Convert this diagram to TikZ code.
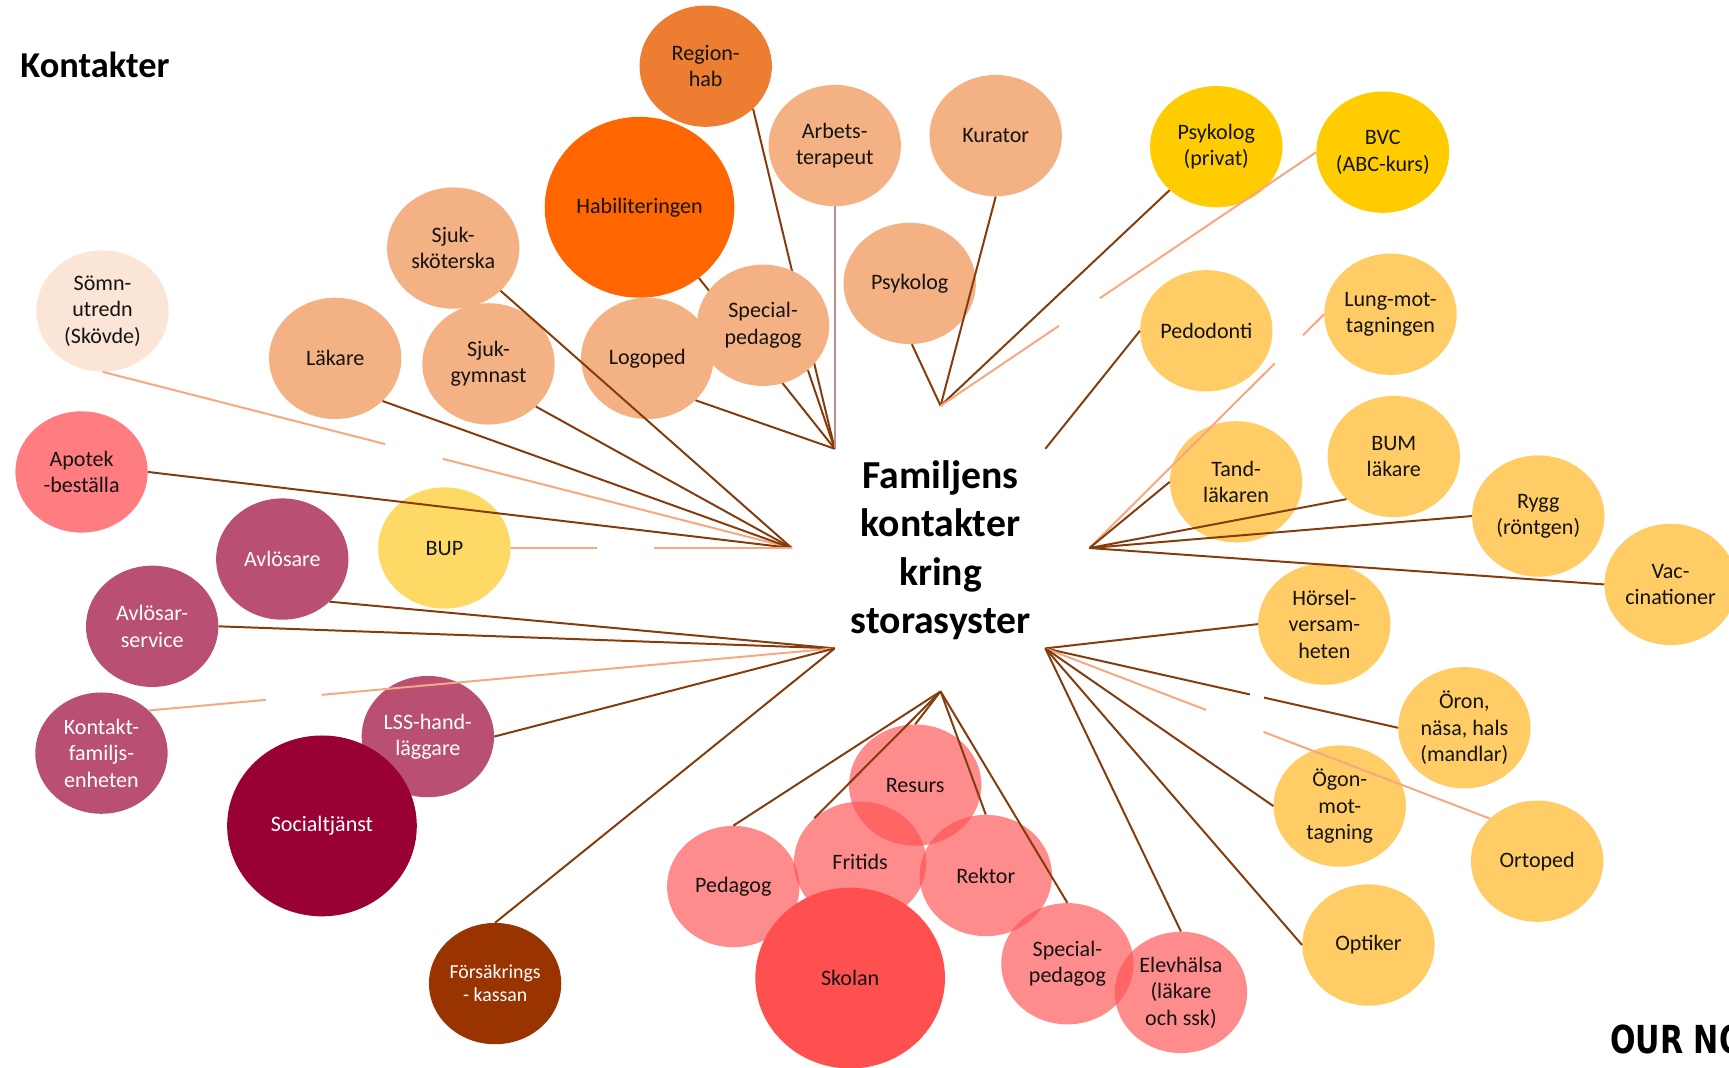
\documentclass[tikz,border=0pt]{standalone}
\usepackage{fontspec}
\setmainfont{Carlito}
\newfontfamily\ourfont{DejaVu Sans}[FakeStretch=0.78]
\usetikzlibrary{shapes.geometric,calc}
\pgfdeclarelayer{bg}
\pgfdeclarelayer{fg}
\pgfsetlayers{bg,main,fg}
\definecolor{cPeach}{HTML}{F4B183}
\definecolor{cRegion}{HTML}{ED7D31}
\definecolor{cHab}{HTML}{FF6600}
\definecolor{cSomn}{HTML}{FBE5D6}
\definecolor{cGold}{HTML}{FFCC00}
\definecolor{cLgold}{HTML}{FFCC66}
\definecolor{cBup}{HTML}{FFD966}
\definecolor{cApotek}{HTML}{FF7C80}
\definecolor{cMauve}{HTML}{B94F72}
\definecolor{cSocial}{HTML}{990033}
\definecolor{cFK}{HTML}{993300}
\definecolor{cSchool}{HTML}{FF5050}
\definecolor{cLine}{HTML}{843C0C}
\definecolor{cSalmon}{HTML}{F7A880}
\definecolor{cRose}{HTML}{BC8F8F}
\definecolor{cText}{HTML}{141414}
\tikzset{
  bub/.style={ellipse, minimum width=120pt, minimum height=110pt, inner sep=0pt, align=center,
    font=\fontsize{20}{24}\selectfont, text=cText},
  bigbub/.style={bub, minimum width=172pt, minimum height=164pt},
  wtext/.style={text=white},
  school/.style={bub, fill=cSchool, fill opacity=0.66, text opacity=1},
  conn/.style={draw=cLine, line width=1.8pt},
  sconn/.style={draw=cSalmon, line width=1.8pt},
  rconn/.style={draw=cRose, line width=1.8pt},
}
\begin{document}
\begin{tikzpicture}[x=1pt,y=-1pt]
\useasboundingbox (0,0) rectangle (1568,968);
% title
\node[anchor=base west, font=\fontsize{33}{40}\selectfont\bfseries] (title) at (15,70) {Kontakter};
% habilitation group
\node[bigbub, fill=cHab] (hab) at (580,188) {Habiliteringen};
\node[bub, fill=cRegion] (rh) at (640,60) {Region-\\hab};
\node[bub, fill=cPeach] (at) at (757,132) {Arbets-\\terapeut};
\node[bub, fill=cPeach] (ku) at (903,123) {Kurator};
\node[bub, fill=cPeach] (ssk) at (411,225) {Sjuk-\\sköterska};
\node[bub, fill=cSomn] (sm) at (93,282) {Sömn-\\utredn\\(Skövde)};
\node[bub, fill=cPeach] (la) at (304,325) {Läkare};
\node[bub, fill=cPeach] (sg) at (443,330) {Sjuk-\\gymnast};
\node[bub, fill=cPeach] (lg) at (587,325) {Logoped};
\node[bub, fill=cPeach] (sp) at (692,295) {Special-\\pedagog};
\node[bub, fill=cPeach] (ps) at (825,257) {Psykolog};
% yellow group
\node[bub, fill=cGold] (pp) at (1103,133) {Psykolog\\(privat)};
\node[bub, fill=cGold] (bvc) at (1254,138) {BVC\\(ABC-kurs)};
\node[bub, fill=cLgold] (pe) at (1094,300) {Pedodonti};
\node[bub, fill=cLgold] (lu) at (1261,285) {Lung-mot-\\tagningen};
\node[bub, fill=cLgold] (td) at (1121,437) {Tand-\\läkaren};
\node[bub, fill=cLgold] (bum) at (1264,414) {BUM\\läkare};
\node[bub, fill=cLgold] (ry) at (1395,468) {Rygg\\(röntgen)};
\node[bub, fill=cLgold] (vac) at (1515,530) {Vac-\\cinationer};
\node[bub, fill=cLgold] (ho) at (1201,566) {Hörsel-\\versam-\\heten};
\node[bub, fill=cLgold] (or) at (1328,660) {Öron,\\näsa, hals\\(mandlar)};
\node[bub, fill=cLgold] (og) at (1215,731) {Ögon-\\mot-\\tagning};
\node[bub, fill=cLgold] (ort) at (1394,781) {Ortoped};
\node[bub, fill=cLgold] (opt) at (1241,857) {Optiker};
% school group
\node[school] (re) at (830,712) {Resurs};
\node[school] (fr) at (780,782) {Fritids};
\node[school] (rk) at (894,794) {Rektor};
\node[school] (pg) at (665,804) {Pedagog};
\node[bigbub, fill=cSchool] (sk) at (771,887) {Skolan};
\node[school] (sp2) at (968,874) {Special-\\pedagog};
\node[school] (eh) at (1071,900) {Elevhälsa\\(läkare\\och ssk)};
% social group
\node[bub, fill=cApotek] (ap) at (74,428) {Apotek\\-beställa};
\node[bub, fill=cBup] (bup) at (403,497) {BUP};
\node[bub, fill=cMauve, wtext] (av) at (256,507) {Avlösare};
\node[bub, fill=cMauve, wtext] (avs) at (138,568) {Avlösar-\\service};
\node[bub, fill=cMauve, wtext] (ko) at (92,683) {Kontakt-\\familjs-\\enheten};
\node[bub, fill=cMauve, wtext] (lss) at (388,668) {LSS-hand-\\läggare};
\node[bigbub, fill=cSocial, wtext] (soc) at (292,749) {Socialtjänst};
\node[bub, fill=cFK, wtext, font=\fontsize{18}{21}\selectfont] (fk) at (449,892) {Försäkrings\\- kassan};
% centre
\node[font=\fontsize{36}{44}\selectfont\bfseries, align=center, text=black] (ctr) at (853,499)
  {Familjens\\kontakter\\kring\\storasyster};
\node[anchor=base west, font=\ourfont\bfseries\fontsize{35}{40}\selectfont, inner sep=0pt] (our) at (1460,955) {OUR NO};
% hubs
\coordinate (hA) at (757,407);
\coordinate (hB) at (853,368);
\coordinate (hC) at (948,407);
\coordinate (hD) at (988,497);
\coordinate (hE) at (948,588);
\coordinate (hF) at (853,627);
\coordinate (hG) at (757,588);
\coordinate (hH) at (718,497);
\begin{pgfonlayer}{bg}
\draw[conn] (rh.-42) -- (hA);
\draw[conn] (hab.-50) -- (hA);
\end{pgfonlayer}
\begin{pgfonlayer}{fg}
\draw[conn] (sp.-45) -- (hA);
\draw[rconn] (at.south) -- (hA);
\draw[conn] (lg.-41) -- (hA);
\draw[conn] (ps.-88) -- (hB);
\draw[conn] (ku.south) -- (hB);
\draw[conn] (pp.-137) -- (hB);
\draw[sconn] (bvc.west) -- ($(bvc.west)!0.576!(hB)$) ($(bvc.west)!0.685!(hB)$) -- (hB);
\draw[conn] (pe.west) -- (hC);
\draw[sconn] (lu.west) -- ($(lu.west)!0.09!(hD)$) ($(lu.west)!0.21!(hD)$) -- (hD);
\draw[conn] (td.west) -- (hD);
\draw[conn] (bum.-138) -- (hD);
\draw[conn] (ry.west) -- (hD);
\draw[conn] (vac.west) -- (hD);
\draw[conn] (ho.west) -- (hE);
\draw[conn] (or.west) -- ($(or.west)!0.38!(hE)$) ($(or.west)!0.42!(hE)$) -- (hE);
\draw[sconn] (ort.138) -- ($(ort.138)!0.509!(hE)$) ($(ort.138)!0.638!(hE)$) -- (hE);
\draw[conn] (og.west) -- (hE);
\draw[conn] (opt.west) -- (hE);
\draw[conn] (eh.north) -- (hE);
\draw[conn] (pg.north) -- (hF);
\draw[conn] (fr.136) -- (hF);
\draw[conn] (re.north) -- (hF);
\draw[conn] (rk.north) -- (hF);
\draw[conn] (sp2.north) -- (hF);
\draw[conn] (av.-42) -- (hG);
\draw[conn] (avs.east) -- (hG);
\draw[sconn] (ko.42) -- ($(ko.42)!0.171!(hG)$) ($(ko.42)!0.252!(hG)$) -- (hG);
\draw[conn] (lss.east) -- (hG);
\draw[conn] (fk.north) -- (hG);
\draw[sconn] (sm.south) -- ($(sm.south)!0.41!(hH)$) ($(sm.south)!0.494!(hH)$) -- (hH);
\draw[conn] (la.-42) -- (hH);
\draw[conn] (sg.-42) -- (hH);
\draw[conn] (ssk.-42) -- (hH);
\draw[conn] (ap.east) -- (hH);
\draw[sconn] (bup.east) -- ($(bup.east)!0.306!(hH)$) ($(bup.east)!0.51!(hH)$) -- (hH);
\end{pgfonlayer}
\end{tikzpicture}
\end{document}
